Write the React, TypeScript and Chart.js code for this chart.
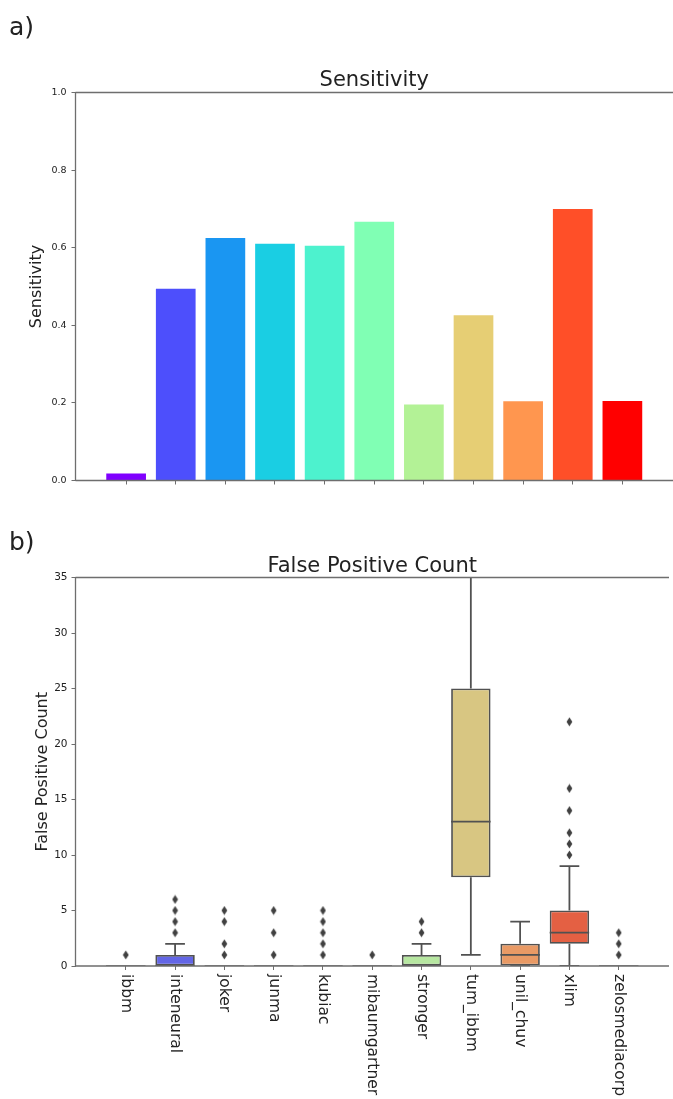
import React, { useEffect, useRef } from 'react';
import { Chart, registerables } from 'chart.js';

Chart.register(...registerables);
Chart.defaults.font.family = 'DejaVu Sans';

// ---------- data ----------
const categories = ['ibbm', 'inteneural', 'joker', 'junma', 'kubiac', 'mibaumgartner', 'stronger', 'tum_ibbm', 'unil_chuv', 'xlim', 'zelosmediacorp'];

const sensitivity = [0.018, 0.494, 0.625, 0.61, 0.605, 0.667, 0.196, 0.426, 0.204, 0.70, 0.205];
const barColors = ['#8000ff', '#4d4ffc', '#1a96f2', '#1acee3', '#4df2ce', '#80ffb4', '#b3f296', '#e6ce74', '#ff964f', '#ff4f28', '#ff0000'];
const sensTicks = [0, 0.2, 0.4, 0.6, 0.8, 1.0];

const fpQ1 = [0, 0, 0, 0, 0, 0, 0, 8, 0, 2, 0];
const fpMedian = [0, 0, 0, 0, 0, 0, 0, 13, 1, 3, 0];
const fpQ3 = [0, 1, 0, 0, 0, 0, 1, 25, 2, 5, 0];
const fpWhiskerLow = [0, 0, 0, 0, 0, 0, 0, 1, 0, 0, 0];
const fpWhiskerHigh = [0, 2, 0, 0, 0, 0, 2, 45, 4, 9, 0];
const fpOutliers = [[1], [3, 4, 5, 6], [1, 2, 4, 5], [1, 3, 5], [1, 2, 3, 4, 5], [1], [3, 4], [], [], [10, 11, 12, 14, 16, 22], [1, 2, 3]];
const boxColors = ['#8020df', '#6366e6', '#3592d7', '#33baca', '#62ddc2', '#90efb7', '#b7e7a1', '#d8c682', '#e99a65', '#e46043', '#df2020'];
const fpTicks = [0, 5, 10, 15, 20, 25, 30, 35];

// ---------- styles ----------
const LINE_GRAY = '#515151';
const SPINE = '#6e6e6e';
const TEXT = '#222222';

function makeDiamond() {
  const c = document.createElement('canvas');
  c.width = 7;
  c.height = 10;
  const g = c.getContext('2d')!;
  g.fillStyle = '#404040';
  g.beginPath();
  g.moveTo(3.5, 0.5);
  g.lineTo(6.4, 5);
  g.lineTo(3.5, 9.5);
  g.lineTo(0.6, 5);
  g.closePath();
  g.fill();
  return c;
}

function decorPlugin(opts: { title: string; titleBaseline: number; panel: string; panelBaseline: number; xLabels?: boolean }) {
  return {
    id: 'decor_' + opts.panel.replace(')', ''),
    afterDraw(chart: any) {
      const { ctx, chartArea } = chart;
      const { left, right, top, bottom } = chartArea;
      ctx.save();
      // spines
      ctx.strokeStyle = SPINE;
      ctx.lineWidth = 1.3;
      ctx.beginPath();
      ctx.moveTo(left, top);
      ctx.lineTo(left, bottom);
      ctx.moveTo(left, top);
      ctx.lineTo(right, top);
      ctx.moveTo(left, bottom);
      ctx.lineTo(right, bottom);
      ctx.stroke();
      // title
      ctx.fillStyle = TEXT;
      ctx.font = '21px "DejaVu Sans"';
      ctx.textAlign = 'center';
      ctx.textBaseline = 'alphabetic';
      ctx.fillText(opts.title, (left + right) / 2, opts.titleBaseline);
      // panel label
      ctx.font = '25px "DejaVu Sans"';
      ctx.textAlign = 'left';
      ctx.fillText(opts.panel, 9, opts.panelBaseline);
      // rotated x labels
      if (opts.xLabels) {
        const xs = chart.scales.x;
        ctx.font = '15.5px "DejaVu Sans"';
        ctx.textAlign = 'left';
        ctx.textBaseline = 'middle';
        categories.forEach((name, i) => {
          const px = xs.getPixelForValue(i);
          ctx.save();
          ctx.translate(px, bottom + 8);
          ctx.rotate(Math.PI / 2);
          ctx.fillText(name, 0, 0);
          ctx.restore();
        });
      }
      ctx.restore();
    },
  };
}

const boxPlugin = {
  id: 'boxWhiskers',
  afterDatasetsDraw(chart: any) {
    const { ctx, chartArea } = chart;
    const xs = chart.scales.x;
    const ys = chart.scales.y;
    const meta = chart.getDatasetMeta(0);
    ctx.save();
    ctx.beginPath();
    ctx.rect(chartArea.left, chartArea.top, chartArea.right - chartArea.left, chartArea.bottom - chartArea.top);
    ctx.clip();
    ctx.lineWidth = 1.8;
    categories.forEach((_, i) => {
      const cx = xs.getPixelForValue(i);
      const w = meta.data[i] ? meta.data[i].width : 40;
      const half = w / 2;
      const capHalf = w / 4;
      const yQ1 = ys.getPixelForValue(fpQ1[i]);
      const yQ3 = ys.getPixelForValue(fpQ3[i]);
      const yLo = ys.getPixelForValue(fpWhiskerLow[i]);
      const yHi = ys.getPixelForValue(fpWhiskerHigh[i]);
      const yMed = ys.getPixelForValue(fpMedian[i]);
      ctx.strokeStyle = LINE_GRAY;
      ctx.beginPath();
      ctx.moveTo(cx, yQ3);
      ctx.lineTo(cx, yHi);
      ctx.moveTo(cx, yQ1);
      ctx.lineTo(cx, yLo);
      ctx.moveTo(cx - capHalf, yHi);
      ctx.lineTo(cx + capHalf, yHi);
      ctx.moveTo(cx - capHalf, yLo);
      ctx.lineTo(cx + capHalf, yLo);
      ctx.stroke();
      ctx.beginPath();
      ctx.strokeStyle = fpQ1[i] === fpQ3[i] ? '#8a8a8a' : LINE_GRAY;
      ctx.moveTo(cx - half, yMed);
      ctx.lineTo(cx + half, yMed);
      ctx.stroke();
    });
    ctx.restore();
  },
};

export default function App() {
  const refA = useRef<HTMLCanvasElement>(null);
  const refB = useRef<HTMLCanvasElement>(null);

  useEffect(() => {
    const gridStyle = { display: true, offset: false, drawOnChartArea: false, drawTicks: true, tickLength: 4, color: SPINE, lineWidth: 1 };

    const chartA = new Chart(refA.current!, {
      type: 'bar',
      data: {
        datasets: [
          {
            data: categories.map((_, i) => ({ x: i, y: sensitivity[i] })),
            backgroundColor: barColors,
            borderWidth: 0,
            categoryPercentage: 1,
            barPercentage: 0.8,
          } as any,
        ],
      },
      options: {
        animation: false,
        responsive: false,
        maintainAspectRatio: false,
        layout: { padding: { top: 92.5, left: 0, right: 0, bottom: 0 } },
        plugins: { legend: { display: false }, tooltip: { enabled: false }, title: { display: false } },
        scales: {
          x: {
            type: 'linear',
            offset: false,
            bounds: 'data',
            min: -1.02,
            max: 11.02,
            afterBuildTicks: (s: any) => { s.ticks = categories.map((_, i) => ({ value: i })); },
            afterFit: (s: any) => { s.height = 19.5; },
            ticks: { display: false },
            grid: gridStyle,
            border: { display: false },
          },
          y: {
            type: 'linear',
            min: 0,
            max: 1,
            afterBuildTicks: (s: any) => { s.ticks = sensTicks.map((v) => ({ value: v })); },
            afterFit: (s: any) => { s.width = 75.5; },
            ticks: { font: { size: 9.5 }, color: TEXT, padding: 5, callback: (v: any) => Number(v).toFixed(1) },
            grid: gridStyle,
            border: { display: false },
            title: { display: true, text: 'Sensitivity', font: { size: 16 }, color: TEXT, padding: { top: 27, bottom: 0 } },
          },
        },
      } as any,
      plugins: [decorPlugin({ title: 'Sensitivity', titleBaseline: 86, panel: 'a)', panelBaseline: 35 })],
    });

    const diamond = makeDiamond();
    const outlierPoints: { x: number; y: number }[] = [];
    fpOutliers.forEach((vals, i) => vals.forEach((v) => outlierPoints.push({ x: i, y: v })));

    const chartB = new Chart(refB.current!, {
      type: 'bar',
      data: {
        datasets: [
          {
            type: 'bar',
            data: categories.map((_, i) => ({ x: i, y: [fpQ1[i], fpQ3[i]] })),
            backgroundColor: boxColors,
            borderColor: LINE_GRAY,
            borderWidth: 1.8,
            borderSkipped: false,
            categoryPercentage: 1,
            barPercentage: 0.8,
          } as any,
          {
            type: 'scatter',
            data: outlierPoints,
            pointStyle: diamond,
            pointRadius: 4,
            backgroundColor: '#404040',
            borderWidth: 0,
          } as any,
        ],
      },
      options: {
        animation: false,
        responsive: false,
        maintainAspectRatio: false,
        layout: { padding: { top: 77.5, left: 0, right: 0, bottom: 0 } },
        plugins: { legend: { display: false }, tooltip: { enabled: false }, title: { display: false } },
        scales: {
          x: {
            type: 'linear',
            offset: false,
            bounds: 'data',
            min: -1.02,
            max: 11.02,
            afterBuildTicks: (s: any) => { s.ticks = categories.map((_, i) => ({ value: i })); },
            afterFit: (s: any) => { s.height = 133; },
            ticks: { display: false },
            grid: gridStyle,
            border: { display: false },
          },
          y: {
            type: 'linear',
            min: 0,
            max: 35,
            afterBuildTicks: (s: any) => { s.ticks = fpTicks.map((v) => ({ value: v })); },
            afterFit: (s: any) => { s.width = 75.5; },
            ticks: { font: { size: 10.5 }, color: TEXT, padding: 4, callback: (v: any) => String(v) },
            grid: gridStyle,
            border: { display: false },
            title: { display: true, text: 'False Positive Count', font: { size: 16 }, color: TEXT, padding: { top: 33, bottom: 0 } },
          },
        },
      } as any,
      plugins: [boxPlugin, decorPlugin({ title: 'False Positive Count', titleBaseline: 71.7, panel: 'b)', panelBaseline: 49.7, xLabels: true })],
    });

    return () => {
      chartA.destroy();
      chartB.destroy();
    };
  }, []);

  return (
    <div style={{ position: 'absolute', left: 0, top: 0, width: 673, height: 1099, background: '#ffffff', overflow: 'hidden' }}>
      <canvas ref={refA} width={673} height={500} style={{ position: 'absolute', left: 0, top: 0 }} />
      <canvas ref={refB} width={673} height={599} style={{ position: 'absolute', left: 0, top: 500 }} />
    </div>
  );
}
